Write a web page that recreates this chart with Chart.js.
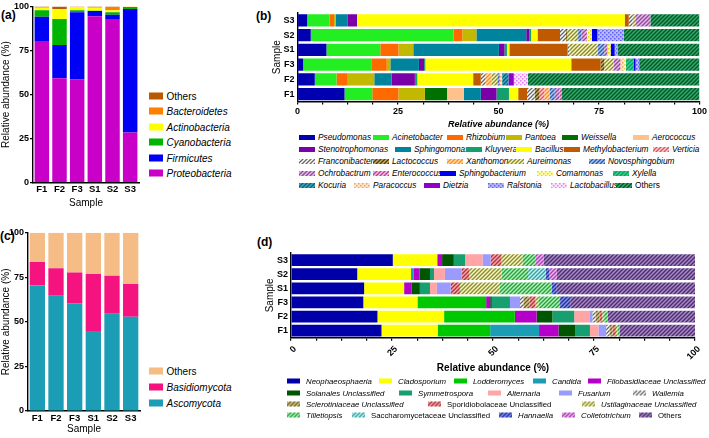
<!DOCTYPE html>
<html>
<head>
<meta charset="utf-8">
<script src="https://cdn.jsdelivr.net/npm/chart.js@4"></script>
<style>
  body { margin: 0; background: #fff; width: 709px; height: 438px; position: relative; overflow: hidden;
         font-family: "Liberation Sans", Arial, sans-serif; color: #000; }
  canvas.chart { position: absolute; }
  .tag { position: absolute; font-weight: bold; font-size: 12px; }
  .item { position: absolute; white-space: nowrap; display: flex; align-items: center; transform: translateY(-50%); }
  .item canvas { display: block; }
  .item span { font-style: italic; }
  .item span.up { font-style: normal; }
</style>
</head>
<body>
<div class="tag" style="left:1px;top:8px">(a)</div>
<div class="tag" style="left:256px;top:9px">(b)</div>
<div class="tag" style="left:0px;top:229px">(c)</div>
<div class="tag" style="left:257px;top:235px">(d)</div>
<canvas class="chart" id="chartA" width="146" height="215" style="left:0;top:0"></canvas>
<canvas class="chart" id="chartB" width="469" height="130" style="left:240px;top:0"></canvas>
<canvas class="chart" id="chartC" width="146" height="216" style="left:0;top:222px"></canvas>
<canvas class="chart" id="chartD" width="469" height="150" style="left:240px;top:228px"></canvas>
<div id="legends"></div>
<script>
const samples = ['F1', 'F2', 'F3', 'S1', 'S2', 'S3'];
const axisTicks = [0, 25, 50, 75, 100];

// (a) bacterial phyla, % per sample
const phylumNames = ['Proteobacteria', 'Firmicutes', 'Cyanobacteria', 'Actinobacteria', 'Bacteroidetes', 'Others'];
const proteobacteria = [79.9, 59.2, 58.7, 94.4, 92.8, 28.5];
const firmicutes = [14.2, 18.9, 38.0, 3.0, 2.4, 70.0];
const cyanobacteria = [3.7, 14.8, 1.1, 0.2, 1.5, 1.1];
const actinobacteria = [1.5, 5.6, 1.8, 1.7, 1.1, 0.2];
const bacteroidetes = [0.2, 0.0, 0.2, 0.2, 1.8, 0.1];
const bacOthers = [0.5, 1.5, 0.2, 0.5, 0.4, 0.1];

// (c) fungal phyla
const fungalPhylumNames = ['Ascomycota', 'Basidiomycota', 'Others'];
const ascomycota = [70.4, 64.7, 60.4, 44.8, 54.5, 52.8];
const basidiomycota = [13.1, 15.4, 17.3, 32.0, 21.3, 18.4];
const fungOthers = [16.5, 19.9, 22.3, 23.2, 24.2, 28.8];

// (b) bacterial genera, stacking order
const genusNames = ['Pseudomonas', 'Acinetobacter', 'Rhizobium', 'Pantoea', 'Weissella', 'Aerococcus',
  'Sphingomonas', 'Stenotrophomonas', 'Kluyvera', 'Bacillus', 'Methylobacterium', 'Franconibacter',
  'Lactococcus', 'Verticia', 'Xanthomonas', 'Aureimonas', 'Novosphingobium', 'Ochrobactrum',
  'Enterococcus', 'Paracoccus', 'Comamonas', 'Xylella', 'Kocuria', 'Dietzia', 'Sphingobacterium',
  'Ralstonia', 'Lactobacillus', 'Others'];
const genusF1 = [11.7, 6.9, 6.5, 6.6, 5.5, 4.2, 4.2, 3.9, 3.1, 2.3, 2.2, 1.9, 1.2, 1.2, 1.3, 0, 1.3, 1.2, 0.6, 0, 0, 0, 0, 0, 0, 0, 0, 34.2];
const genusF2 = [4.3, 5.4, 2.8, 6.6, 0, 0, 4.3, 5.8, 0.6, 13.9, 1.9, 1.2, 0, 0, 1.5, 1.4, 0.6, 0, 0, 0.6, 0, 0, 1.6, 1.3, 0, 0, 3.5, 42.7];
const genusF3 = [1.4, 17.1, 3.7, 0.9, 0, 0, 7.1, 1.3, 0.3, 36.3, 7.3, 0, 0.9, 0, 0, 2.3, 0, 1.7, 0, 1.0, 0.4, 1.9, 0, 0, 0.5, 0.9, 0, 15.0];
const genusS1 = [7.2, 13.4, 4.5, 3.7, 0, 0, 21.3, 1.4, 0.6, 0.6, 14.5, 0.5, 0, 0, 0, 7.0, 1.6, 0.8, 0, 0, 0.8, 0, 0, 0, 1.0, 0.7, 0, 20.4];
const genusS2 = [3.3, 35.5, 2.2, 3.5, 0, 0, 12.4, 0.8, 0.4, 1.6, 5.6, 1.5, 0.3, 0, 0, 2.7, 0.8, 0.9, 0.5, 0, 1.2, 0, 0, 0, 1.4, 6.6, 0, 18.8];
const genusS3 = [2.4, 5.6, 1.1, 0.4, 0, 0, 2.9, 2.4, 0, 66.6, 1.0, 1.0, 0, 0, 0, 0.8, 0, 3.6, 0, 0, 0, 0, 0, 0, 0, 0, 0, 12.2];

// (d) fungal genera, stacking order
const fungusNames = ['Neophaeosphaeria', 'Cladosporium', 'Lodderomyces', 'Candida', 'Filobasidiaceae Unclassified',
  'Solanales Unclassified', 'Symmetrospora', 'Alternaria', 'Fusarium', 'Wallemia', 'Sclerotiniaceae Unclassified',
  'Sporidiobolaceae Unclassified', 'Ustilaginaceae Unclassified', 'Tilletiopsis', 'Saccharomycetaceae Unclassified',
  'Hannaella', 'Colletotrichum', 'Others'];
const fungusF1 = [22.4, 13.9, 13.0, 12.1, 4.8, 4.1, 3.7, 2.1, 1.9, 0.8, 0.8, 0.8, 0.4, 0.5, 0, 0, 0, 18.7];
const fungusF2 = [21.4, 16.5, 17.5, 0, 5.4, 3.9, 5.4, 3.9, 0.6, 0.8, 1.0, 0.6, 0.5, 0.9, 0, 0, 0, 21.6];
const fungusF3 = [17.9, 13.4, 17.0, 0, 1.0, 0.4, 4.5, 0, 2.5, 0.8, 1.5, 1.5, 0.7, 5.4, 0, 2.5, 0, 30.9];
const fungusS1 = [18.1, 9.9, 0, 0, 1.9, 2.0, 2.5, 1.7, 3.4, 0, 0, 2.3, 9.9, 12.8, 0, 1.3, 0, 34.2];
const fungusS2 = [16.4, 13.3, 0, 0.7, 1.4, 2.6, 1.0, 2.7, 4.1, 0, 0, 1.9, 8.0, 6.6, 4.4, 0.8, 1.9, 34.2];
const fungusS3 = [25.2, 11.0, 0, 0, 1.2, 2.9, 2.8, 4.3, 2.0, 0, 0, 2.7, 5.2, 3.3, 0, 0, 1.9, 37.5];

// ---- styles ----
const phylumColors = ['#c800c8', '#0000f5', '#00b400', '#ffff00', '#ff7f00', '#b85a00'];
const fungalPhylumColors = ['#1a9db5', '#f5147f', '#f5bc85'];
const genusStyles = [
  '#0000b0', '#22ee22', '#ff6a00', '#c2b800', '#007000', '#ffc28a',
  '#00839c', '#7a00a8', '#14a06a', '#ffff00', '#c05a00',
  { h: '#666666', b: '#ffffff' },            // Franconibacter
  { h: '#4a3e10', b: '#c8b060' },            // Lactococcus
  { h: '#e05060', b: '#ffd0d0' },            // Verticia
  { h: '#ff8c1a', b: '#ffdcb0' },            // Xanthomonas
  { h: '#8a8a20', b: '#f4f4c8' },            // Aureimonas
  { h: '#2a5ab0', b: '#a8c4f0' },            // Novosphingobium
  { h: '#904a9a', b: '#e4b8ea' },            // Ochrobactrum
  { h: '#c03c90', b: '#f4c4e4' },            // Enterococcus
  { d: '#f0a060', b: '#ffe4c8' },            // Paracoccus
  { d: '#e6d600', b: '#fffcb0' },            // Comamonas
  { h: '#00a060', b: '#3cd08c' },            // Xylella
  { h: '#006680', b: '#40a4bc' },            // Kocuria
  '#9000c8', '#0000ee',
  { d: '#6060f0', b: '#b8b8ff' },            // Ralstonia
  { d: '#e080f0', b: '#ffe4ff' },            // Lactobacillus
  { h: '#00582a', b: '#34a868' }             // Others
];
const fungusStyles = [
  '#0000a8', '#ffff00', '#00c800', '#1a9db5', '#b400c8', '#005500', '#16a070', '#ffa5a5', '#9a9aff',
  { h: '#666666', b: '#ffffff' },            // Wallemia
  { h: '#6e5e28', b: '#d8c890' },            // Sclerotiniaceae
  { h: '#b03040', b: '#f4a8a8' },            // Sporidiobolaceae
  { h: '#8c8c28', b: '#f4f4c4' },            // Ustilaginaceae
  { h: '#20a040', b: '#b4f0b4' },            // Tilletiopsis
  { h: '#30a0a0', b: '#c4f0f0' },            // Saccharomycetaceae
  { h: '#1e2ca0', b: '#8494e4' },            // Hannaella
  { h: '#a040b0', b: '#f0b4f0' },            // Colletotrichum
  { h: '#4a2c6a', b: '#a888c8' }             // Others
];
const uprightNames = ['Others', 'Sporidiobolaceae Unclassified', 'Saccharomycetaceae Unclassified'];

const patternCache = new Map();
function fillOf(style) {
  if (typeof style === 'string') return style;
  if (patternCache.has(style)) return patternCache.get(style);
  const c = document.createElement('canvas');
  c.width = 4; c.height = 4;
  const g = c.getContext('2d');
  g.fillStyle = style.b;
  g.fillRect(0, 0, 4, 4);
  if (style.h) {
    g.strokeStyle = style.h;
    g.lineWidth = 1.3;
    g.beginPath();
    g.moveTo(-1, 5); g.lineTo(5, -1);
    g.moveTo(-1, 1); g.lineTo(1, -1);
    g.moveTo(3, 5); g.lineTo(5, 3);
    g.stroke();
  } else {
    g.fillStyle = style.d;
    g.fillRect(0, 0, 1.5, 1.5);
    g.fillRect(2, 2, 1.5, 1.5);
  }
  const p = g.createPattern(c, 'repeat');
  patternCache.set(style, p);
  return p;
}

Chart.defaults.font.family = '"Liberation Sans", Arial, sans-serif';
Chart.defaults.color = '#000';
Chart.defaults.animation = false;

const axisBorder = { color: '#000', width: 1.4 };
const fit = (prop, n) => (s) => { s[prop] = n; };

// vertical stacked chart (a) and (c)
function columnChart(id, names, series, colors, opts) {
  return new Chart(document.getElementById(id), {
    type: 'bar',
    data: {
      labels: samples,
      datasets: names.map((n, i) => ({
        label: n, data: series[i], backgroundColor: colors[i],
        borderWidth: 0, barPercentage: 0.82, categoryPercentage: 1
      }))
    },
    options: {
      responsive: false, devicePixelRatio: 1,
      layout: { padding: opts.padding },
      plugins: { legend: { display: false }, tooltip: { enabled: false } },
      scales: {
        x: {
          stacked: true, afterFit: fit('height', opts.xHeight),
          border: axisBorder, grid: { display: false, drawTicks: false },
          ticks: { font: { size: 9.5, weight: 'bold' }, padding: opts.xPad },
          title: { display: true, text: 'Sample', font: { size: 10 }, padding: 0 }
        },
        y: {
          stacked: true, min: 0, max: 100, afterFit: fit('width', opts.yWidth),
          afterBuildTicks: (s) => { s.ticks = axisTicks.map((v) => ({ value: v })); },
          border: axisBorder,
          grid: { drawOnChartArea: false, tickLength: 3, color: '#000', lineWidth: 1.2 },
          ticks: { font: { size: 9, weight: 'bold' }, padding: 1 },
          title: { display: true, text: 'Relative abundance (%)', font: { size: 10 }, padding: 0 }
        }
      }
    }
  });
}

// horizontal stacked chart (b) and (d)
function rowChart(id, names, perSample, styles, opts) {
  return new Chart(document.getElementById(id), {
    type: 'bar',
    data: {
      labels: samples,
      datasets: names.map((n, i) => ({
        label: n, data: perSample.map((row) => row[i]), backgroundColor: fillOf(styles[i]),
        borderWidth: 0, barPercentage: 0.83, categoryPercentage: 1
      }))
    },
    options: {
      indexAxis: 'y', responsive: false, devicePixelRatio: 1,
      layout: { padding: opts.padding },
      plugins: { legend: { display: false }, tooltip: { enabled: false } },
      scales: {
        x: {
          stacked: true, min: 0, max: 100, afterFit: fit('height', opts.xHeight),
          afterBuildTicks: (s) => {
            const t = [];
            for (let v = 0; v <= 100; v += 6.25) t.push({ value: v });
            s.ticks = t;
          },
          border: axisBorder,
          grid: { drawOnChartArea: false, tickLength: 3, color: '#000', lineWidth: 1.2 },
          ticks: {
            autoSkip: false, font: { size: 9, weight: 'bold' }, padding: opts.xPad,
            minRotation: opts.rot, maxRotation: opts.rot, labelOffset: opts.labelOffset,
            callback: (v) => (axisTicks.includes(v) ? v : '')
          },
          title: { display: true, text: 'Relative abundance (%)', font: opts.titleFont, padding: 0 }
        },
        y: {
          stacked: true, reverse: true, afterFit: fit('width', opts.yWidth),
          border: axisBorder, grid: { display: false, drawTicks: false },
          ticks: { font: { size: 9, weight: 'bold' }, padding: 3 },
          title: { display: true, text: 'Sample', font: { size: 10 }, padding: 0 }
        }
      }
    }
  });
}

columnChart('chartA', phylumNames,
  [proteobacteria, firmicutes, cyanobacteria, actinobacteria, bacteroidetes, bacOthers], phylumColors,
  { padding: { left: 0, top: 3, right: 7, bottom: 6 }, xHeight: 26.3, yWidth: 33, xPad: 1 });

columnChart('chartC', fungalPhylumNames, [ascomycota, basidiomycota, fungOthers], fungalPhylumColors,
  { padding: { left: 0, top: 10.7, right: 6, bottom: 3 }, xHeight: 24, yWidth: 28, xPad: 2 });

rowChart('chartB', genusNames, [genusF1, genusF2, genusF3, genusS1, genusS2, genusS3], genusStyles,
  { padding: { left: 31, top: 13, right: 6.5, bottom: 0 }, xHeight: 28.6, yWidth: 26.5, rot: 0,
    labelOffset: 0, xPad: 2, titleFont: { size: 9, weight: 'bold', style: 'italic' } });

rowChart('chartD', fungusNames, [fungusF1, fungusF2, fungusF3, fungusS1, fungusS2, fungusS3], fungusStyles,
  { padding: { left: 24, top: 25, right: 14, bottom: 4 }, xHeight: 36.2, yWidth: 27, rot: 45,
    labelOffset: 4, xPad: 3, titleFont: { size: 10, weight: 'bold' } });

// ---- legends (HTML) ----
const legendBox = document.getElementById('legends');
function addItem(name, style, x, y, sw, sh, size, gap) {
  const d = document.createElement('div');
  d.className = 'item';
  d.style.left = x + 'px';
  d.style.top = y + 'px';
  d.style.fontSize = size + 'px';
  const c = document.createElement('canvas');
  c.width = sw; c.height = sh;
  const g = c.getContext('2d');
  g.fillStyle = fillOf(style);
  g.fillRect(0, 0, sw, sh);
  c.style.marginRight = gap + 'px';
  const s = document.createElement('span');
  s.textContent = name;
  if (uprightNames.includes(name)) s.className = 'up';
  d.append(c, s);
  legendBox.appendChild(d);
}

// (a) and (c): listed top-down in reverse stacking order
const legA = [96, 111, 126.7, 142.3, 158, 172.7];
phylumNames.slice().reverse().forEach((n, i) =>
  addItem(n, phylumColors[phylumNames.length - 1 - i], 149, legA[i], 14, 7, 10, 3.5));
const legC = [371, 386.7, 402.7];
fungalPhylumNames.slice().reverse().forEach((n, i) =>
  addItem(n, fungalPhylumColors[fungalPhylumNames.length - 1 - i], 149, legC[i], 14, 7, 10, 3.5));

// (b) rows: [name, text x]
const legendRowsB = [
  [137, [['Pseudomonas', 318], ['Acinetobacter', 392], ['Rhizobium', 466], ['Pantoea', 525], ['Weissella', 581], ['Aerococcus', 652]]],
  [149, [['Stenotrophomonas', 318], ['Sphingomonas', 414], ['Kluyvera', 485], ['Bacillus', 535], ['Methylobacterium', 583], ['Verticia', 672]]],
  [161, [['Franconibacter', 318], ['Lactococcus', 392], ['Xanthomonas', 466], ['Aureimonas', 527], ['Novosphingobium', 608]]],
  [173, [['Ochrobactrum', 318], ['Enterococcus', 392], ['Sphingobacterium', 459], ['Comamonas', 556], ['Xylella', 632]]],
  [185, [['Kocuria', 318], ['Paracoccus', 373], ['Dietzia', 443], ['Ralstonia', 507], ['Lactobacillus', 570], ['Others', 635]]]
];
legendRowsB.forEach(([y, items]) => items.forEach(([n, x]) =>
  addItem(n, genusStyles[genusNames.indexOf(n)], x - 19, y, 16, 5, 8.3, 3)));

const legendRowsD = [
  [381, [['Neophaeosphaeria', 306], ['Cladosporium', 398], ['Lodderomyces', 473], ['Candida', 552], ['Filobasidiaceae Unclassified', 607]]],
  [393, [['Solanales Unclassified', 306], ['Symmetrospora', 418], ['Alternaria', 507], ['Fusarium', 578], ['Wallemia', 652]]],
  [404, [['Sclerotiniaceae Unclassified', 306], ['Sporidiobolaceae Unclassified', 447], ['Ustilaginaceae Unclassified', 601]]],
  [415, [['Tilletiopsis', 306], ['Saccharomycetaceae Unclassified', 371], ['Hannaella', 518], ['Colletotrichum', 581], ['Others', 658]]]
];
legendRowsD.forEach(([y, items]) => items.forEach(([n, x]) =>
  addItem(n, fungusStyles[fungusNames.indexOf(n)], x - 19, y, 13, 5, 7.8, 6)));
</script>
</body>
</html>
